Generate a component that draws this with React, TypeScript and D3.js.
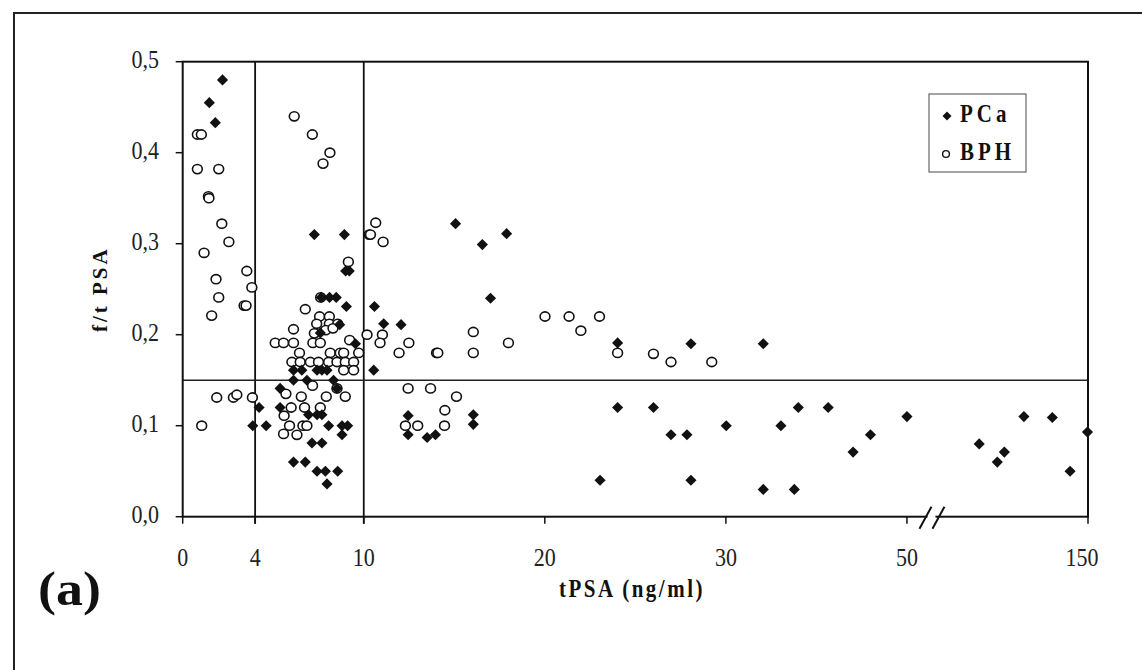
import { useRef, useEffect } from "react";
import * as d3 from "d3";

// tPSA (ng/ml) and f/t PSA ratio
const pcaTpsa = [
  2.2, 1.47, 1.8, 3.87, 4.22, 4.61,
  7.27, 8.93, 9.0, 9.2, 7.65, 8.11, 8.48, 9.04, 8.67, 7.6, 9.54,
  6.12, 6.58, 7.42, 7.69, 7.97, 6.12, 6.86, 8.33, 5.38, 8.52, 5.38,
  6.95, 7.42, 7.69, 8.06, 8.8, 9.11, 8.8, 7.14, 7.69, 6.12, 6.77,
  7.42, 7.88, 8.56, 7.97,
  10.59, 11.1, 12.06, 10.55, 12.45, 12.45, 13.5, 13.96, 16.05, 16.05,
  15.07, 16.55, 17.89, 17.0, 23.05, 24.02, 24.02, 26.0, 26.97, 27.85,
  28.07, 28.07, 30.04, 34.13, 34.13, 36.08, 37.56, 38.0, 41.3, 44.05,
  45.97, 50.0, 89.9, 99.9, 103.8, 114.6, 130.3, 140.1, 149.7,
];
const pcaRatio = [
  0.48, 0.455, 0.433, 0.1, 0.12, 0.1,
  0.31, 0.31, 0.27, 0.27, 0.241, 0.241, 0.241, 0.231, 0.211, 0.202, 0.19,
  0.161, 0.161, 0.161, 0.161, 0.161, 0.15, 0.15, 0.15, 0.141, 0.141, 0.12,
  0.112, 0.112, 0.112, 0.1, 0.1, 0.1, 0.09, 0.081, 0.081, 0.06, 0.06,
  0.05, 0.05, 0.05, 0.036,
  0.231, 0.212, 0.211, 0.161, 0.111, 0.09, 0.087, 0.09, 0.112, 0.1015,
  0.322, 0.299, 0.311, 0.24, 0.04, 0.191, 0.12, 0.12, 0.09, 0.09,
  0.19, 0.04, 0.1, 0.19, 0.03, 0.1, 0.03, 0.12, 0.12, 0.071,
  0.09, 0.11, 0.08, 0.06, 0.071, 0.11, 0.109, 0.05, 0.093,
];

const bphTpsa = [
  0.81, 1.03, 0.81, 1.99, 1.42, 1.45, 2.16, 2.55, 1.18, 1.84, 1.99, 1.6,
  3.54, 3.82, 3.39, 3.5, 1.05, 1.88, 2.8, 2.99, 3.85,
  6.16, 7.16, 7.75, 8.13, 9.15, 7.62, 6.77, 7.56, 8.1, 7.4, 8.1, 8.56,
  7.9, 8.3, 7.27, 9.22, 5.11, 5.57, 6.12, 7.19, 7.6, 6.12,
  6.45, 8.15, 8.7, 8.89, 9.72, 6.03, 6.49, 7.05, 7.5, 8.06, 8.52, 8.98, 9.44,
  8.89, 9.44, 5.7, 7.17, 6.55, 7.93, 8.52, 8.98, 5.99, 6.73, 7.6,
  5.6, 5.9, 6.64, 6.86, 5.57, 6.31,
  10.3, 10.37, 10.66, 11.07, 10.18, 11.03, 10.9, 11.95, 12.49,
  14.02, 14.09, 16.05, 16.05, 17.99, 20.01, 21.34, 23.02, 21.99, 24.02,
  26.0, 26.97, 29.22, 12.45, 13.69, 15.12, 14.48, 12.3, 12.98, 14.46,
];
const bphRatio = [
  0.42, 0.42, 0.382, 0.382, 0.352, 0.35, 0.322, 0.302, 0.29, 0.261, 0.241, 0.221,
  0.27, 0.252, 0.232, 0.232, 0.1, 0.131, 0.131, 0.134, 0.131,
  0.44, 0.42, 0.388, 0.4, 0.28, 0.241, 0.228, 0.22, 0.22, 0.212, 0.212, 0.212,
  0.205, 0.207, 0.2015, 0.194, 0.191, 0.191, 0.191, 0.191, 0.191, 0.206,
  0.18, 0.18, 0.18, 0.18, 0.18, 0.17, 0.17, 0.17, 0.17, 0.17, 0.17, 0.17, 0.17,
  0.161, 0.161, 0.135, 0.144, 0.132, 0.132, 0.141, 0.132, 0.12, 0.12, 0.12,
  0.111, 0.1, 0.1, 0.1, 0.091, 0.09,
  0.31, 0.31, 0.323, 0.302, 0.2, 0.2, 0.191, 0.18, 0.191,
  0.18, 0.18, 0.203, 0.18, 0.191, 0.22, 0.22, 0.22, 0.2044, 0.18,
  0.179, 0.17, 0.17, 0.141, 0.141, 0.132, 0.117, 0.1, 0.1, 0.1,
];

const xTicks = [0, 4, 10, 20, 30, 50, 150];
const yTicks = [0, 0.1, 0.2, 0.3, 0.4, 0.5];
const tpsaCuts = [4, 10];
const ratioCut = 0.15;
const legendLabels = ["PCa", "BPH"];

const W = 1142;
const H = 670;
const FONT = "'Liberation Serif', 'Times New Roman', serif";

const App = () => {
  const ref = useRef(null);

  useEffect(() => {
    const svg = d3.select(ref.current);
    svg.selectAll("*").remove();

    const left = 182.7;
    const right = 1088;
    const top = 61.7;
    const bottom = 516.7;
    const pw = right - left;

    // broken axis: 0-30 linear, then 30-50 and 50-150 squeezed into a tenth each
    const x = d3
      .scaleLinear()
      .domain([0, 30, 50, 150])
      .range([left, left + 0.6 * pw, left + 0.8 * pw, right]);
    const y = d3.scaleLinear().domain([0, 0.5]).range([bottom, top]);

    const stretch = (tx, ty) => `translate(${tx},${ty}) scale(1,1.15)`;

    svg.append("rect").attr("width", W).attr("height", H).attr("fill", "#fff");

    // outer frame
    svg
      .append("rect")
      .attr("x", 14)
      .attr("y", 13)
      .attr("width", W + 20)
      .attr("height", H + 20)
      .attr("fill", "none")
      .attr("stroke", "#222")
      .attr("stroke-width", 2);

    // reference lines
    svg
      .selectAll(".vcut")
      .data(tpsaCuts)
      .enter()
      .append("line")
      .attr("x1", (d) => x(d))
      .attr("x2", (d) => x(d))
      .attr("y1", top)
      .attr("y2", bottom + 7)
      .attr("stroke", "#111")
      .attr("stroke-width", 1.8);
    svg
      .append("line")
      .attr("x1", left)
      .attr("x2", right)
      .attr("y1", y(ratioCut))
      .attr("y2", y(ratioCut))
      .attr("stroke", "#222")
      .attr("stroke-width", 1.5);

    // plot border
    svg
      .append("rect")
      .attr("x", left)
      .attr("y", top)
      .attr("width", pw)
      .attr("height", bottom - top)
      .attr("fill", "none")
      .attr("stroke", "#111")
      .attr("stroke-width", 2);

    // y ticks
    const yAxis = svg.append("g");
    yAxis
      .selectAll("line")
      .data(yTicks)
      .enter()
      .append("line")
      .attr("x1", left - 7)
      .attr("x2", left)
      .attr("y1", (d) => y(d))
      .attr("y2", (d) => y(d))
      .attr("stroke", "#111")
      .attr("stroke-width", 1.5);
    yAxis
      .selectAll("text")
      .data(yTicks)
      .enter()
      .append("text")
      .attr("transform", (d) => stretch(159, y(d) + 6))
      .attr("text-anchor", "end")
      .style("font-family", FONT)
      .style("font-size", "22px")
      .attr("fill", "#222")
      .text((d) => d3.format(".1f")(d).replace(".", ","));

    // x ticks
    const xAxis = svg.append("g");
    xAxis
      .selectAll("line")
      .data(xTicks)
      .enter()
      .append("line")
      .attr("x1", (d) => x(d))
      .attr("x2", (d) => x(d))
      .attr("y1", bottom)
      .attr("y2", bottom + 7)
      .attr("stroke", "#111")
      .attr("stroke-width", 1.5);
    xAxis
      .selectAll("text")
      .data(xTicks)
      .enter()
      .append("text")
      .attr("transform", (d, i) =>
        stretch(x(d) - (i === xTicks.length - 1 ? 6 : 0), bottom + 49)
      )
      .attr("text-anchor", "middle")
      .style("font-family", FONT)
      .style("font-size", "22px")
      .attr("fill", "#222")
      .text((d) => d);

    // axis break "//"
    const bx = (x(50) + x(150)) / 2 - 66;
    svg
      .append("rect")
      .attr("x", bx - 4)
      .attr("y", bottom - 3)
      .attr("width", 8)
      .attr("height", 6)
      .attr("fill", "#fff");
    [-6, 7].forEach((off) => {
      svg
        .append("line")
        .attr("x1", bx + off - 6)
        .attr("y1", bottom + 12)
        .attr("x2", bx + off + 6)
        .attr("y2", bottom - 10)
        .attr("stroke", "#111")
        .attr("stroke-width", 2);
    });

    // points
    const bph = bphTpsa.map((t, i) => ({ t, r: bphRatio[i] }));
    const pca = pcaTpsa.map((t, i) => ({ t, r: pcaRatio[i] }));
    const diamond = d3.symbol().type(d3.symbolSquare).size(62);

    svg
      .selectAll(".bph")
      .data(bph)
      .enter()
      .append("ellipse")
      .attr("class", "bph")
      .attr("cx", (d) => x(d.t))
      .attr("cy", (d) => y(d.r))
      .attr("rx", 4.9)
      .attr("ry", 4.6)
      .attr("fill", "#fff")
      .attr("stroke", "#111")
      .attr("stroke-width", 1.6);

    svg
      .selectAll(".pca")
      .data(pca)
      .enter()
      .append("path")
      .attr("class", "pca")
      .attr("d", diamond)
      .attr("transform", (d) => `translate(${x(d.t)},${y(d.r)}) rotate(45)`)
      .attr("fill", "#111");

    // legend
    const legend = svg.append("g");
    legend
      .append("rect")
      .attr("x", 929)
      .attr("y", 94)
      .attr("width", 97)
      .attr("height", 78)
      .attr("fill", "#fff")
      .attr("stroke", "#666")
      .attr("stroke-width", 1.2);
    const items = legend
      .selectAll(".legend")
      .data(legendLabels)
      .enter()
      .append("g")
      .attr("class", "legend")
      .attr("transform", (d, i) => `translate(0, ${i * 38})`);
    items
      .filter((d, i) => i === 0)
      .append("path")
      .attr("d", d3.symbol().type(d3.symbolSquare).size(40))
      .attr("transform", "translate(947,116) rotate(45)")
      .attr("fill", "#111");
    items
      .filter((d, i) => i === 1)
      .append("circle")
      .attr("cx", 946)
      .attr("cy", 116)
      .attr("r", 3.4)
      .attr("fill", "#fff")
      .attr("stroke", "#111")
      .attr("stroke-width", 1.4);
    items
      .append("text")
      .attr("transform", stretch(960, 122))
      .style("font-family", FONT)
      .style("font-size", "21px")
      .style("font-weight", "bold")
      .style("letter-spacing", "4px")
      .attr("fill", "#111")
      .text((d) => d);

    // axis titles
    svg
      .append("text")
      .attr("transform", `translate(107, ${(top + bottom) / 2}) rotate(-90)`)
      .attr("text-anchor", "middle")
      .style("font-family", FONT)
      .style("font-size", "21px")
      .style("font-weight", "bold")
      .style("letter-spacing", "3px")
      .attr("fill", "#111")
      .text("f/t PSA");
    svg
      .append("text")
      .attr("transform", stretch(632, 597))
      .attr("text-anchor", "middle")
      .style("font-family", FONT)
      .style("font-size", "21px")
      .style("font-weight", "bold")
      .style("letter-spacing", "2.5px")
      .attr("fill", "#111")
      .text("tPSA (ng/ml)");
    svg
      .append("text")
      .attr("transform", "translate(38,605) scale(1,0.9)")
      .style("font-family", FONT)
      .style("font-size", "54px")
      .style("font-weight", "bold")
      .attr("fill", "#111")
      .text("(a)");
  }, []);

  return (
    <svg
      ref={ref}
      width={W}
      height={H}
      style={{ position: "absolute", left: 0, top: 0, display: "block" }}
    ></svg>
  );
};

export default App;
